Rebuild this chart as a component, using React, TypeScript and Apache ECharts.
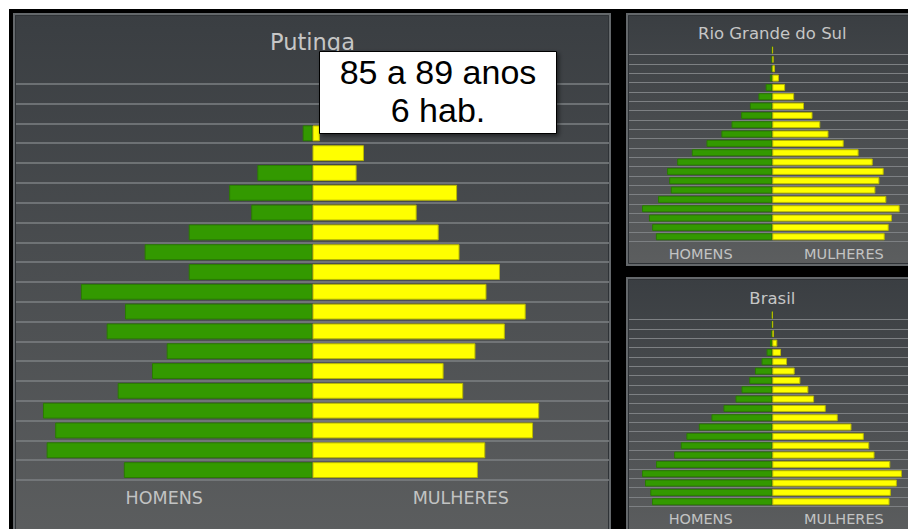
import React, { useEffect, useRef } from 'react';
import * as echarts from 'echarts';

// Age groups listed from the top row (oldest) to the bottom row (youngest)
const ageGroups = [
  '100 ou mais', '95 a 99', '90 a 94', '85 a 89', '80 a 84', '75 a 79', '70 a 74',
  '65 a 69', '60 a 64', '55 a 59', '50 a 54', '45 a 49', '40 a 44', '35 a 39',
  '30 a 34', '25 a 29', '20 a 24', '15 a 19', '10 a 14', '5 a 9', '0 a 4',
];

// Putinga (habitantes)
const putingaHomens = [0, 0, 0, 8, 0, 45, 68, 50, 101, 137, 101, 189, 153, 168, 119, 131, 159, 220, 210, 217, 154];
const putingaMulheres = [0, 0, 0, 6, 42, 36, 118, 85, 103, 120, 153, 142, 174, 157, 133, 107, 123, 185, 180, 141, 135];

// Rio Grande do Sul (mil habitantes)
const rsHomens = [1, 3, 4, 9, 25, 52, 84, 117, 153, 191, 247, 302, 357, 395, 387, 381, 429, 489, 463, 451, 437];
const rsMulheres = [2, 5, 10, 25, 48, 82, 119, 151, 180, 211, 268, 324, 377, 418, 402, 387, 428, 478, 449, 437, 422];

// Brasil (mil habitantes)
const brasilHomens = [10, 23, 73, 160, 396, 743, 1200, 1596, 2131, 2547, 3380, 4213, 5087, 5948, 6336, 6801, 8050, 9020, 8814, 8446, 8328];
const brasilMulheres = [14, 42, 118, 347, 604, 1020, 1548, 1943, 2498, 2894, 3699, 4532, 5483, 6336, 6711, 7079, 8168, 8973, 8626, 8210, 8120];

const panelTitles = ['Putinga', 'Rio Grande do Sul', 'Brasil'];
const sexLabels = ['HOMENS', 'MULHERES'];
const tooltipIndex = 3;

const GREEN = '#339900';
const GREEN_BORDER = '#2a7c00';
const YELLOW = '#ffff00';
const YELLOW_BORDER = '#b8b800';

export default function App() {
  const ref = useRef<HTMLDivElement>(null);

  useEffect(() => {
    const chart = echarts.init(ref.current!, null, { renderer: 'svg' });

    const datasets = [
      { h: putingaHomens, m: putingaMulheres },
      { h: rsHomens, m: rsMulheres },
      { h: brasilHomens, m: brasilMulheres },
    ];

    const grids = [
      { left: 7, top: 55, width: 593, height: 416 },
      { left: 620, top: 36.4, width: 286.6, height: 196 },
      { left: 620, top: 301.4, width: 286.6, height: 196 },
    ];

    const panels = [
      { x: 5, y: 5, w: 596, h: 530 },
      { x: 618, y: 5, w: 290, h: 251 },
      { x: 618, y: 269, w: 290, h: 262 },
    ];

    const titlePos = [
      { x: 303.5, y: 33, size: 22.5 },
      { x: 763.3, y: 24, size: 16.5 },
      { x: 763.3, y: 289, size: 16.5 },
    ];
    const labelY = [489, 245, 510];
    const labelSize = [17.5, 14.5, 14.5];
    const lineWidth = [1.6, 1.2, 1.2];
    const gaps = ['20%', '25%', '25%'];

    const xAxis: any[] = [];
    const yAxis: any[] = [];
    const series: any[] = [];
    const graphic: any[] = [];

    datasets.forEach((d, i) => {
      const maxVal = Math.max(...d.h, ...d.m) * 1.1;
      xAxis.push({ type: 'value', gridIndex: i, min: -maxVal, max: maxVal, show: false });
      yAxis.push({
        type: 'category',
        gridIndex: i,
        data: ageGroups,
        inverse: true,
        axisLine: { show: false },
        axisTick: { show: false },
        axisLabel: { show: false },
        splitLine: {
          show: true,
          interval: (idx: number) => idx !== 0,
          lineStyle: { color: '#7d8083', width: lineWidth[i] },
        },
      });
      series.push({
        type: 'bar',
        name: 'Homens',
        xAxisIndex: i,
        yAxisIndex: i,
        data: d.h.map((v) => (v === 0 ? '-' : -v)),
        barGap: '-100%',
        barCategoryGap: gaps[i],
        itemStyle: { color: GREEN, borderColor: GREEN_BORDER, borderWidth: 1 },
        silent: true,
      });
      series.push({
        type: 'bar',
        name: 'Mulheres',
        xAxisIndex: i,
        yAxisIndex: i,
        data: d.m.map((v) => (v === 0 ? '-' : v)),
        barGap: '-100%',
        barCategoryGap: gaps[i],
        itemStyle: { color: YELLOW, borderColor: YELLOW_BORDER, borderWidth: 1 },
        silent: true,
      });

      const p = panels[i];
      graphic.push({
        type: 'rect',
        z: -10,
        shape: { x: p.x, y: p.y, width: p.w, height: p.h },
        style: {
          fill: {
            type: 'linear', x: 0, y: 0, x2: 0, y2: 1,
            colorStops: [
              { offset: 0, color: '#3a3e42' },
              { offset: 1, color: '#5c5e5f' },
            ],
          },
          stroke: '#64686b',
          lineWidth: 2,
        },
      });
      graphic.push({
        type: 'rect',
        z: -9,
        shape: { x: p.x + 1.5, y: p.y + 1.5, width: p.w - 3, height: p.h - 3 },
        style: { fill: 'none', stroke: '#2e3236', lineWidth: 1 },
      });

      const t = titlePos[i];
      graphic.push({
        type: 'text',
        z: 5,
        x: t.x,
        y: t.y,
        style: {
          text: panelTitles[i],
          fill: '#c6c6c6',
          fontSize: t.size,
          fontFamily: 'DejaVu Sans',
          align: 'center',
          verticalAlign: 'middle',
        },
      });
      const g = grids[i];
      [0, 1].forEach((k) => {
        graphic.push({
          type: 'text',
          z: 5,
          x: g.left + g.width * (k === 0 ? 0.25 : 0.75),
          y: labelY[i],
          style: {
            text: sexLabels[k],
            fill: '#c2c3c3',
            fontSize: labelSize[i],
            fontFamily: 'DejaVu Sans',
            align: 'center',
            verticalAlign: 'middle',
          },
        });
      });
    });

    // Static tooltip over the Putinga pyramid
    graphic.push({
      type: 'rect',
      z: 100,
      shape: { x: 310.5, y: 42.5, width: 237, height: 82 },
      style: {
        fill: '#ffffff',
        stroke: '#000000',
        lineWidth: 1,
        shadowBlur: 4,
        shadowOffsetX: 2,
        shadowOffsetY: 2,
        shadowColor: 'rgba(0,0,0,0.5)',
      },
    });
    graphic.push({
      type: 'text',
      z: 101,
      x: 429,
      y: 63,
      style: {
        text: `${ageGroups[tooltipIndex]} anos`,
        fill: '#000',
        fontSize: 34,
        fontFamily: 'Liberation Sans',
        align: 'center',
        verticalAlign: 'middle',
      },
    });
    graphic.push({
      type: 'text',
      z: 101,
      x: 429,
      y: 101,
      style: {
        text: `${putingaMulheres[tooltipIndex]} hab.`,
        fill: '#000',
        fontSize: 34,
        fontFamily: 'Liberation Sans',
        align: 'center',
        verticalAlign: 'middle',
      },
    });

    chart.setOption({
      animation: false,
      backgroundColor: '#000000',
      grid: grids.map((g) => ({ ...g, containLabel: false })),
      xAxis,
      yAxis,
      series,
      graphic,
    });

    return () => chart.dispose();
  }, []);

  return (
    <div
      style={{
        position: 'absolute',
        left: 9,
        top: 9,
        width: 899,
        height: 520,
        background: '#000',
        overflow: 'hidden',
      }}
    >
      <div ref={ref} style={{ width: 930, height: 520 }} />
    </div>
  );
}
